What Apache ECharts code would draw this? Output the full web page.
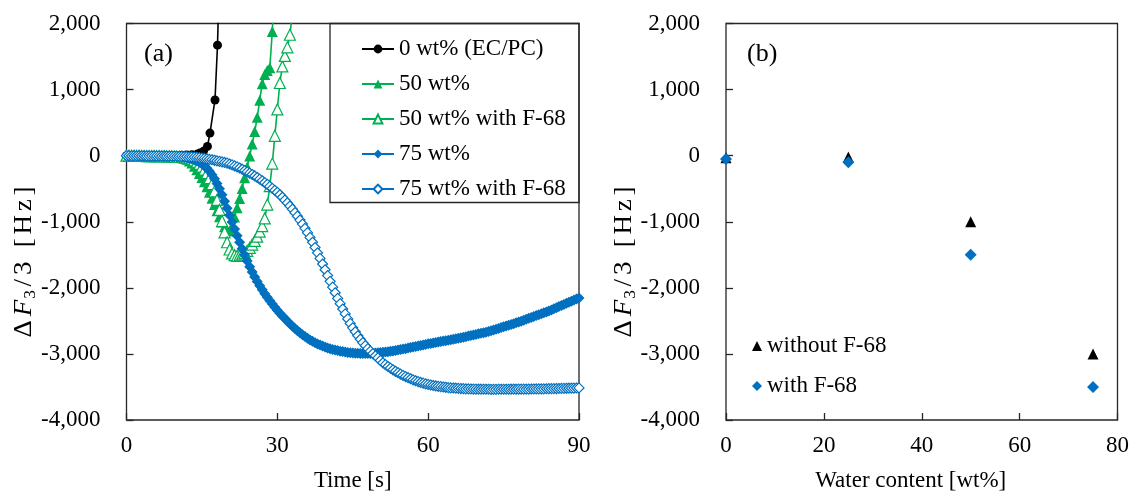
<!DOCTYPE html>
<html>
<head>
<meta charset="utf-8">
<script src="https://cdn.jsdelivr.net/npm/echarts@6/dist/echarts.min.js"></script>
<style>
  html, body { margin: 0; padding: 0; background: #fff; }
  #chart { width: 1132px; height: 497px; }
</style>
</head>
<body>
<div id="chart"></div>
<script>
// Sampling times of the QCM-D runs [s]
const timeGrid = [
  0,0.5,1,1.5,2,2.5,3,3.5,4,4.5,5,5.5,6,6.5,7,7.5,8,8.5,9,9.5,
  10,10.5,11,11.5,12,12.5,13,13.5,14,14.5,15,15.5,16,16.5,17,17.5,18,18.5,19,19.5,
  20,20.5,21,21.5,22,22.5,23,23.5,24,24.5,25,25.5,26,26.5,27,27.5,28,28.5,29,29.5,
  30,30.5,31,31.5,32,32.5,33,33.5,34,34.5,35,35.5,36,36.5,37,37.5,38,38.5,39,39.5,
  40,40.5,41,41.5,42,42.5,43,43.5,44,44.5,45,45.5,46,46.5,47,47.5,48,48.5,49,49.5,
  50,50.5,51,51.5,52,52.5,53,53.5,54,54.5,55,55.5,56,56.5,57,57.5,58,58.5,59,59.5,
  60,60.5,61,61.5,62,62.5,63,63.5,64,64.5,65,65.5,66,66.5,67,67.5,68,68.5,69,69.5,
  70,70.5,71,71.5,72,72.5,73,73.5,74,74.5,75,75.5,76,76.5,77,77.5,78,78.5,79,79.5,
  80,80.5,81,81.5,82,82.5,83,83.5,84,84.5,85,85.5,86,86.5,87,87.5,88,88.5,89,89.5,
  90
];

// 0 wt% (EC/PC): own sampling times
const ecpcTime = [0,1,2,3,4,5,6,7,8,9,10,11,12,13,14,14.6,15.3,16.1,16.6,17.6,18.1,18.7];
const ecpc     = [0,0,0,0,0,0,0,0,0,0,0,5,10,15,20,40,65,140,342,843,1672,3400];

// 50 wt% (t = 0 ... 29.5 s)
const wt50 = [
  0,-2,-3,-4,-5,-5,-6,-6,-7,-7,-8,-8,-9,-9,-10,-11,-12,-13,-15,-17,
  -20,-24,-30,-40,-55,-80,-110,-160,-215,-270,-330,-395,-470,-555,-645,-740,-835,-925,-1005,-1075,
  -1125,-1140,-1070,-930,-790,-650,-495,-335,-170,-5,175,365,580,840,1090,1230,1290,1330,1880,2750
];

// 50 wt% with F-68 (t = 0 ... 33.5 s)
const wt50F68 = [
  0,-2,-3,-3,-4,-4,-5,-5,-6,-6,-7,-7,-8,-8,-9,-9,-10,-11,-12,-13,
  -15,-17,-20,-24,-28,-38,-50,-70,-95,-125,-165,-210,-265,-340,-430,-540,-670,-820,-990,-1160,
  -1310,-1420,-1480,-1505,-1515,-1510,-1495,-1470,-1440,-1395,-1345,-1290,-1225,-1150,-1065,-950,-740,-460,-120,300,
  700,1100,1350,1510,1640,1830,2150,2600
];

// 75 wt% (t = 0 ... 90 s)
const wt75 = [
  0,-1,-2,-2,-3,-3,-4,-4,-5,-5,-6,-6,-7,-7,-8,-9,-10,-11,-12,-14,
  -16,-19,-23,-28,-34,-42,-52,-64,-80,-100,-125,-155,-190,-235,-290,-350,-420,-500,-590,-690,
  -795,-900,-1005,-1110,-1210,-1310,-1410,-1505,-1595,-1680,-1760,-1835,-1905,-1970,-2030,-2088,-2142,-2194,-2243,-2292,
  -2340,-2385,-2425,-2465,-2505,-2543,-2580,-2615,-2648,-2680,-2710,-2738,-2764,-2788,-2810,-2830,-2849,-2866,-2882,-2896,
  -2909,-2921,-2932,-2941,-2950,-2958,-2965,-2971,-2977,-2982,-2986,-2989,-2991,-2993,-2994,-2994,-2993,-2992,-2990,-2987,
  -2984,-2980,-2976,-2971,-2966,-2960,-2954,-2948,-2941,-2934,-2927,-2920,-2912,-2904,-2896,-2888,-2880,-2872,-2864,-2856,
  -2848,-2841,-2834,-2827,-2820,-2813,-2806,-2799,-2792,-2785,-2778,-2771,-2764,-2756,-2747,-2739,-2730,-2722,-2713,-2705,
  -2696,-2688,-2679,-2671,-2662,-2650,-2638,-2626,-2614,-2602,-2590,-2578,-2566,-2554,-2542,-2530,-2518,-2504,-2490,-2476,
  -2462,-2448,-2434,-2420,-2406,-2392,-2378,-2364,-2350,-2334,-2317,-2301,-2284,-2268,-2251,-2235,-2218,-2202,-2185,-2169,
  -2152
];

// 75 wt% with F-68 (t = 0 ... 90 s)
const wt75F68 = [
  0,0,-1,-1,-1,-2,-2,-2,-3,-3,-3,-4,-4,-4,-5,-5,-6,-6,-7,-8,
  -9,-10,-11,-12,-14,-16,-18,-21,-25,-30,-35,-41,-48,-55,-62,-70,-78,-86,-95,-103,
  -112,-126,-140,-155,-170,-187,-205,-225,-245,-265,-285,-307,-330,-355,-380,-407,-435,-465,-495,-525,
  -555,-592,-630,-672,-715,-762,-810,-862,-915,-975,-1035,-1100,-1165,-1237,-1310,-1390,-1470,-1555,-1640,-1727,
  -1815,-1902,-1990,-2075,-2160,-2240,-2320,-2395,-2470,-2538,-2605,-2665,-2725,-2778,-2830,-2875,-2920,-2958,-2995,-3028,
  -3060,-3098,-3135,-3163,-3190,-3215,-3240,-3263,-3285,-3305,-3325,-3343,-3360,-3376,-3392,-3406,-3420,-3432,-3443,-3453,
  -3462,-3470,-3478,-3485,-3491,-3496,-3501,-3505,-3509,-3513,-3516,-3519,-3521,-3524,-3526,-3528,-3529,-3531,-3532,-3533,
  -3534,-3534,-3535,-3535,-3535,-3536,-3536,-3536,-3535,-3535,-3535,-3535,-3535,-3534,-3534,-3534,-3533,-3533,-3533,-3532,
  -3532,-3531,-3531,-3530,-3529,-3529,-3528,-3527,-3526,-3525,-3525,-3524,-3523,-3522,-3521,-3520,-3519,-3518,-3517,-3516,
  -3515
];

// Panel (b): frequency shift vs. water content
const waterContent = [0, 25, 50, 75];
const withoutF68   = [-30, -20, -1000, -3000];
const withF68      = [-50, -100, -1500, -3500];

// Axis ticks
const timeTicks  = { min: 0, max: 90, interval: 30 };
const waterTicks = { min: 0, max: 80, interval: 20 };
const shiftTicks = { min: -4000, max: 2000, interval: 1000 };

const FONT = 'Liberation Serif';
const INK = '#000';
const FRAME = '#262626';
const GREEN = '#00B050';
const BLUE = '#0070C0';
const FS = 23;

function pairs(xs, ys) { return ys.map((y, i) => [xs[i], y]); }
function thousands(v) {
  const s = String(Math.abs(v)).replace(/\B(?=(\d{3})+(?!\d))/g, ',');
  return (v < 0 ? '-' : '') + s;
}

const tickStyle = { show: true, inside: true, length: 7, lineStyle: { color: FRAME, width: 1.3 } };

function valueAxis(grid, ticks, name, nameGap, namePad) {
  return {
    type: 'value', gridIndex: grid,
    min: ticks.min, max: ticks.max, interval: ticks.interval,
    axisLine: { show: false, onZero: false },
    axisTick: tickStyle,
    splitLine: { show: false },
    axisLabel: { color: INK, fontFamily: FONT, fontSize: FS, margin: 14 },
    name: name, nameLocation: 'middle', nameGap: nameGap,
    nameTextStyle: { color: INK, fontFamily: FONT, fontSize: FS, padding: namePad }
  };
}
function shiftAxis(grid) {
  return {
    type: 'value', gridIndex: grid,
    min: shiftTicks.min, max: shiftTicks.max, interval: shiftTicks.interval,
    axisLine: { show: false, onZero: false },
    axisTick: tickStyle,
    splitLine: { show: false },
    axisLabel: { color: INK, fontFamily: FONT, fontSize: FS, margin: 26, formatter: thousands }
  };
}

function timeSeries(name, xs, ys, symbol, size, fill, stroke) {
  return {
    name: name, type: 'line', xAxisIndex: 0, yAxisIndex: 0,
    data: pairs(xs, ys),
    symbol: symbol, symbolSize: size, showSymbol: true, showAllSymbol: true,
    lineStyle: { color: stroke, width: 1.6 },
    itemStyle: { color: fill, borderColor: stroke, borderWidth: fill === '#fff' ? 1.2 : 0, opacity: 1 },
    emphasis: { disabled: true },
    clip: true
  };
}

// Rotated, slightly spaced axis title ΔF3/3 [Hz] with italic F and subscript 3
function shiftTitle(x, y) {
  const gap = 3.5;
  const size = 25;
  return {
    type: 'text', x: x, y: y, rotation: Math.PI / 2, scaleX: 1.08,
    style: {
      text: '{d|Δ}{f|F}{s|3}{d|/}{d|3}{d| }{d|[}{d|H}{d|z}{e|]}',
      align: 'center', verticalAlign: 'middle',
      rich: {
        d: { fontFamily: FONT, fontSize: size, lineHeight: 30, fill: INK, padding: [0, gap, 0, 0] },
        e: { fontFamily: FONT, fontSize: size, lineHeight: 30, fill: INK },
        f: { fontFamily: FONT, fontSize: size, lineHeight: 30, fontStyle: 'italic', fill: INK, padding: [0, 1, 0, 0] },
        s: { fontFamily: FONT, fontSize: 16, lineHeight: 16, verticalAlign: 'bottom', fill: INK, padding: [0, gap, 0, 0] }
      }
    }
  };
}

const chart = echarts.init(document.getElementById('chart'), null, { renderer: 'canvas' });

const option = {
  animation: false,
  backgroundColor: '#fff',
  textStyle: { fontFamily: FONT, color: INK },
  grid: [
    { left: 126.5, top: 23.5, width: 452.5, height: 398.5, show: true, borderColor: FRAME, borderWidth: 1.3, backgroundColor: 'transparent' },
    { left: 726, top: 23.5, width: 392, height: 398.5, show: true, borderColor: FRAME, borderWidth: 1.3, backgroundColor: 'transparent' }
  ],
  xAxis: [
    valueAxis(0, timeTicks, 'Time [s]', 49, 0),
    valueAxis(1, waterTicks, 'Water content [wt%]', 49, [0, 22, 0, 0])
  ],
  yAxis: [shiftAxis(0), shiftAxis(1)],
  legend: [
    {
      orient: 'vertical', left: 356, top: 32,
      itemWidth: 32, itemHeight: 11, itemGap: 11,
      textStyle: { fontFamily: FONT, fontSize: FS, color: INK, lineHeight: 24 },
      selectedMode: false,
      data: ['0 wt% (EC/PC)', '50 wt%', '50 wt% with F-68', '75 wt%', '75 wt% with F-68']
    },
    {
      orient: 'vertical', left: 747, top: 329,
      itemWidth: 10, itemHeight: 10, itemGap: 16,
      textStyle: { fontFamily: FONT, fontSize: FS, color: INK, lineHeight: 24 },
      selectedMode: false,
      data: ['without F-68', 'with F-68']
    }
  ],
  graphic: [
    { type: 'rect', z: 1, shape: { x: 330, y: 23.5, width: 249, height: 179 },
      style: { fill: 'none', stroke: FRAME, lineWidth: 1.3 } },
    shiftTitle(24, 262),
    shiftTitle(624, 262),
    { type: 'text', x: 144, y: 54, style: { text: '(a)', fontFamily: FONT, fontSize: 26, fill: INK, verticalAlign: 'middle' } },
    { type: 'text', x: 747, y: 54, style: { text: '(b)', fontFamily: FONT, fontSize: 26, fill: INK, verticalAlign: 'middle' } }
  ],
  series: [
    timeSeries('0 wt% (EC/PC)', ecpcTime, ecpc, 'circle', 9, '#000', '#000'),
    timeSeries('50 wt%', timeGrid, wt50, 'triangle', 11, GREEN, GREEN),
    timeSeries('50 wt% with F-68', timeGrid, wt50F68, 'triangle', 11, '#fff', GREEN),
    timeSeries('75 wt%', timeGrid, wt75, 'diamond', 11, BLUE, BLUE),
    timeSeries('75 wt% with F-68', timeGrid, wt75F68, 'diamond', 10, '#fff', BLUE),
    {
      name: 'without F-68', type: 'scatter', xAxisIndex: 1, yAxisIndex: 1,
      data: pairs(waterContent, withoutF68),
      symbol: 'triangle', symbolSize: 11,
      itemStyle: { color: '#000', opacity: 1 }, emphasis: { disabled: true }
    },
    {
      name: 'with F-68', type: 'scatter', xAxisIndex: 1, yAxisIndex: 1,
      data: pairs(waterContent, withF68),
      symbol: 'diamond', symbolSize: 12,
      itemStyle: { color: BLUE, opacity: 1 }, emphasis: { disabled: true }
    }
  ]
};

chart.setOption(option);
</script>
</body>
</html>
